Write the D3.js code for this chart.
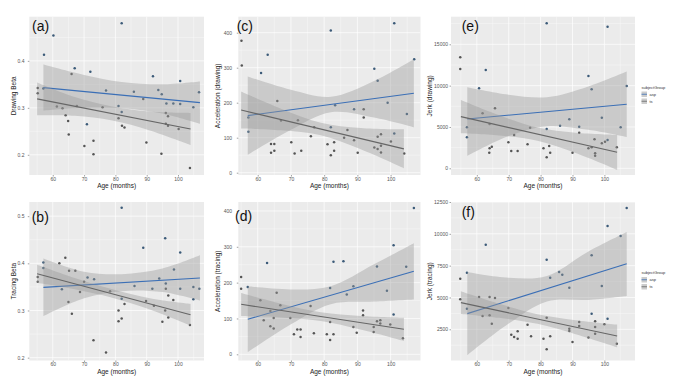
<!DOCTYPE html>
<html><head><meta charset="utf-8">
<script src="https://cdn.jsdelivr.net/npm/d3@7"></script>
<style>body{margin:0;background:#fff}svg{display:block}text{font-family:"Liberation Sans",Arial,sans-serif}</style>
</head><body><svg id="c" width="685" height="384"></svg>
<script>
// ---------------- data ----------------
const panelLabels = ["(a)","(b)","(c)","(d)","(e)","(f)"];
const yTitles = ["Drawing Beta","Tracing Beta","Acceleration (drawing)","Acceleration (tracing)","Jerk (drawing)","Jerk (tracing)"];
const xTitle = "Age (months)";
const xTicks = [60,70,80,90,100];
const yTicksA = [0.2,0.3,0.4];
const yTicksB = [0.2,0.3,0.4,0.5];
const yTicksC = [0,100,200,300,400];
const yTicksD = [0,100,200,300,400];
const yTicksE = [0,5000,10000,15000];
const yTicksF = [2500,5000,7500,10000,12500];
const groups = ["asp","ts"];
const legendTitle = "subjectGroup";

// points: [age, value, group(0=asp,1=ts)]
const ptsA = [[82.0,0.480,0],[60.2,0.454,0],[57.2,0.413,0],[55.2,0.342,1],[55.2,0.331,1],[57.0,0.341,0],[67.0,0.384,0],[66.0,0.372,1],[72.0,0.377,0],[77.0,0.337,0],[92.0,0.367,0],[100.7,0.357,0],[85.9,0.334,0],[93.7,0.338,0],[88.9,0.319,1],[81.0,0.304,0],[75.9,0.301,1],[61.3,0.303,1],[63.1,0.299,1],[64.1,0.284,1],[64.9,0.272,1],[65.1,0.243,1],[70.9,0.265,0],[70.1,0.219,1],[73.0,0.230,1],[73.0,0.201,1],[82.0,0.291,0],[82.1,0.262,1],[82.9,0.258,1],[89.9,0.226,1],[94.7,0.202,1],[96.3,0.309,0],[96.1,0.289,1],[96.8,0.282,1],[96.1,0.266,1],[96.8,0.262,1],[98.5,0.309,0],[100.2,0.255,1],[100.7,0.308,0],[104.9,0.301,0],[103.8,0.172,1],[106.7,0.333,0],[94.8,0.329,0],[81.0,0.278,1],[67.7,0.304,1]];
const ptsB = [[82.0,0.518,0],[88.9,0.433,0],[95.9,0.453,0],[100.7,0.423,0],[64.0,0.412,1],[57.0,0.402,0],[57.0,0.390,0],[62.1,0.400,1],[65.2,0.384,1],[67.2,0.384,1],[55.2,0.371,1],[55.2,0.361,1],[62.9,0.345,0],[71.1,0.370,0],[73.2,0.366,0],[98.7,0.387,0],[94.0,0.368,0],[96.1,0.357,0],[91.8,0.346,0],[86.1,0.352,0],[96.1,0.346,1],[100.7,0.346,0],[104.9,0.350,0],[106.8,0.346,0],[104.9,0.324,0],[96.9,0.332,1],[98.5,0.322,1],[65.0,0.318,1],[66.1,0.293,1],[82.0,0.325,0],[82.9,0.314,1],[81.0,0.300,1],[81.0,0.277,1],[82.0,0.283,1],[92.3,0.310,1],[89.8,0.320,1],[95.9,0.300,1],[96.9,0.285,1],[95.0,0.276,1],[103.8,0.269,1],[73.0,0.237,1],[77.0,0.211,1],[78.3,0.341,1],[68.7,0.339,1],[70.0,0.361,1]];
const ptsC = [[82.0,406,0],[101.1,427,0],[55.1,377,1],[55.2,306,1],[63.0,337,0],[61.0,285,0],[107.1,324,0],[95.1,297,0],[96.1,263,0],[99.1,200,0],[65.9,205,1],[83.3,193,0],[89.0,181,0],[91.9,181,1],[91.9,158,1],[104.9,168,0],[57.2,158,0],[57.2,117,0],[67.0,149,1],[72.1,150,1],[77.0,130,1],[82.0,130,0],[87.0,122,1],[76.0,104,1],[64.0,82,1],[65.0,82,1],[64.0,57,1],[65.0,63,1],[70.1,87,1],[71.1,55,1],[73.1,63,1],[81.0,81,1],[82.0,50,1],[83.0,63,1],[89.0,93,1],[90.1,57,1],[96.1,103,1],[97.1,110,1],[95.1,72,1],[96.1,68,1],[97.1,77,1],[97.1,58,1],[100.1,89,1],[101.1,112,0],[104.1,55,1],[86.0,100,1],[83.0,87,1]];
const ptsD = [[107.0,408,0],[100.9,304,0],[62.8,255,0],[82.8,258,0],[85.8,260,0],[104.7,244,0],[95.9,245,0],[55.0,216,1],[55.0,183,1],[57.0,188,0],[65.7,172,1],[81.8,185,0],[88.8,190,0],[86.8,167,0],[98.9,177,0],[60.8,151,1],[66.8,137,1],[75.9,135,1],[63.8,121,1],[61.8,95,1],[64.8,101,1],[69.8,101,1],[91.7,122,1],[91.7,109,1],[100.9,111,0],[81.8,90,1],[95.9,92,1],[96.9,86,1],[99.9,83,1],[88.8,76,1],[94.9,76,1],[63.8,78,1],[64.8,72,1],[71.9,69,1],[72.9,69,1],[70.9,56,1],[72.9,48,1],[76.9,59,1],[80.8,56,1],[82.8,56,1],[89.8,60,1],[81.8,40,1],[94.9,62,1],[103.7,45,1],[96.9,95,1]];
const ptsE = [[81.9,17540,0],[101.0,17137,0],[54.8,13427,1],[54.8,12016,1],[62.8,11895,0],[95.0,11169,0],[60.7,9677,0],[96.0,9556,0],[107.0,9960,0],[65.7,7258,1],[61.8,6653,1],[89.0,5927,0],[99.2,6129,0],[86.1,5161,0],[92.1,5040,0],[56.9,4960,0],[105.1,4960,0],[76.7,4919,1],[81.9,4758,0],[92.1,4315,1],[56.9,3750,0],[64.0,5363,1],[71.7,4032,1],[69.9,3145,1],[82.7,2702,1],[75.9,2903,1],[64.7,2621,1],[64.0,2419,1],[63.9,1895,1],[70.8,2097,1],[72.8,2097,1],[80.9,2419,1],[81.9,1331,1],[83.0,1895,1],[90.0,1895,1],[95.0,2419,1],[96.0,2540,1],[96.9,3508,1],[100.2,3226,1],[101.0,3427,0],[97.1,1815,1],[97.1,1532,1],[103.9,2540,1],[99.2,3024,1]];
const ptsF = [[107.0,12029,0],[101.0,10615,0],[105.1,9830,0],[62.8,9149,0],[81.9,7971,0],[96.0,8312,0],[56.9,6950,0],[54.8,6479,1],[85.8,7003,0],[86.8,6793,0],[83.0,6558,0],[89.0,5772,0],[99.2,5903,0],[54.8,4856,1],[60.7,5039,1],[64.0,5039,1],[65.7,4961,1],[56.9,4123,0],[69.9,4175,1],[61.8,3547,1],[64.0,3599,1],[64.7,2945,1],[96.0,3730,0],[81.9,3416,1],[92.1,3076,1],[92.1,2762,1],[97.1,3128,1],[101.0,3338,0],[100.0,2893,1],[97.1,2683,1],[89.0,2552,1],[89.0,2369,1],[75.9,2866,1],[72.8,2343,1],[70.8,2081,1],[71.7,1898,1],[72.8,1767,1],[77.0,1950,1],[80.9,1767,1],[83.0,1950,1],[81.9,929,1],[90.0,1505,1],[95.0,1846,1],[97.1,2160,1],[103.9,1374,1]];

// regression fits (value at first and last band age) and confidence bands (read at band ages)
const bandAgesAsp = [57,70,82,95,107];
const bandAgesTs  = [55,67,79,91,104];
const fitAspA=[0.343,0.311], hiAspA=[0.392,0.370,0.355,0.350,0.356], loAspA=[0.294,0.300,0.299,0.288,0.266];
const fitTsA=[0.319,0.255],  hiTsA=[0.354,0.323,0.303,0.292,0.289],  loTsA=[0.284,0.283,0.273,0.252,0.221];
const fitAspB=[0.349,0.369], hiAspB=[0.410,0.382,0.377,0.389,0.417], loAspB=[0.288,0.326,0.341,0.339,0.321];
const fitTsB=[0.378,0.291],  hiTsB=[0.397,0.369,0.345,0.326,0.314],  loTsB=[0.359,0.345,0.327,0.302,0.268];
const fitAspC=[163,227], hiAspC=[275,237,217,262,324], loAspC=[51,123,173,158,130];
const fitTsC=[179,68],   hiTsC=[232,183,143,128,124],  loTsC=[126,121,107,67,13];
const fitAspD=[97.7,231.6], hiAspD=[190,181,190,251,310], loAspD=[6,84,140,147,153];
const fitTsD=[139.5,69.8],  hiTsD=[171,141,117,107,102],  loTsD=[107,103,93,69,37];
const fitAspE=[5968,7742], hiAspE=[9800,8900,8600,9900,11700], loAspE=[1500,3900,5100,4650,3780];
const fitTsE=[6250,1935],  hiTsE=[8250,6410,4940,4300,4050],   loTsE=[4250,3980,3340,1865,-180];
const fitAspF=[3730,7657], hiAspF=[7000,6550,6690,8620,10150], loAspF=[460,2950,4690,4810,5120];
const fitTsF=[4594,1976],  hiTsF=[5480,4500,3690,3220,2870],   loTsF=[3710,3400,2930,2120,1090];

// ---------------- layout ----------------
const cols = [{x0:29.3,x1:204,xd:[52.5,108.3],pad:3.3,ytl:16},
              {x0:238.3,x1:420.5,xd:[54.15,109.0],pad:4.8,ytl:220},
              {x0:451,x1:635,xd:[51.9,109.6],pad:1.5,ytl:431.5}];
const rows = [{y0:16.7,y1:175},{y0:202,y1:360.5}];
const panels = [
  {col:0,row:0,yd:[0.157,0.494],ticks:yTicksA,fmt:d3.format(".1f"),pts:ptsA,fa:fitAspA,ha:hiAspA,la:loAspA,ft:fitTsA,ht:hiTsA,lt:loTsA,lx:32,ly:31},
  {col:0,row:1,yd:[0.194,0.530],ticks:yTicksB,fmt:d3.format(".1f"),pts:ptsB,fa:fitAspB,ha:hiAspB,la:loAspB,ft:fitTsB,ht:hiTsB,lt:loTsB,lx:31.7,ly:222},
  {col:1,row:0,yd:[-6.6,445.7],ticks:yTicksC,fmt:d3.format("d"),pts:ptsC,fa:fitAspC,ha:hiAspC,la:loAspC,ft:fitTsC,ht:hiTsC,lt:loTsC,lx:236.7,ly:31},
  {col:1,row:1,yd:[-17.3,425],ticks:yTicksD,fmt:d3.format("d"),pts:ptsD,fa:fitAspD,ha:hiAspD,la:loAspD,ft:fitTsD,ht:hiTsD,lt:loTsD,lx:235,ly:221},
  {col:2,row:0,yd:[-810,18340],ticks:yTicksE,fmt:d3.format("d"),pts:ptsE,fa:fitAspE,ha:hiAspE,la:loAspE,ft:fitTsE,ht:hiTsE,lt:loTsE,lx:461.7,ly:31},
  {col:2,row:1,yd:[49,12500],ticks:yTicksF,fmt:d3.format("d"),pts:ptsF,fa:fitAspF,ha:hiAspF,la:loAspF,ft:fitTsF,ht:hiTsF,lt:loTsF,lx:461.7,ly:217}
];
const ptColor = ["#3b5a78","#555555"];
const lineColor = ["#3b6fb6","#666666"];

const svg = d3.select("#c");

panels.forEach((p,i)=>{
  const c = cols[p.col], r = rows[p.row];
  const x = d3.scaleLinear().domain(c.xd).range([c.x0,c.x1]);
  const y = d3.scaleLinear().domain(p.yd).range([r.y1,r.y0]);
  const g = svg.append("g");
  const clipId = "clip"+i;
  svg.append("clipPath").attr("id",clipId).append("rect")
    .attr("x",c.x0).attr("y",r.y0).attr("width",c.x1-c.x0).attr("height",r.y1-r.y0);
  g.append("rect").attr("x",c.x0).attr("y",r.y0).attr("width",c.x1-c.x0).attr("height",r.y1-r.y0).attr("fill","#ebebeb");
  // grid
  const xMinor = xTicks.map(t=>t-5).concat([xTicks[xTicks.length-1]+5]);
  const step = p.ticks[1]-p.ticks[0];
  const yMinor = [p.ticks[0]-step/2].concat(p.ticks.map(t=>t+step/2));
  const gg = g.append("g").attr("clip-path",`url(#${clipId})`);
  gg.selectAll(".xm").data(xMinor).enter().append("line")
    .attr("x1",d=>x(d)).attr("x2",d=>x(d)).attr("y1",r.y0).attr("y2",r.y1).attr("stroke","#fff").attr("stroke-width",0.35);
  gg.selectAll(".ym").data(yMinor).enter().append("line")
    .attr("y1",d=>y(d)).attr("y2",d=>y(d)).attr("x1",c.x0).attr("x2",c.x1).attr("stroke","#fff").attr("stroke-width",0.35);
  gg.selectAll(".xM").data(xTicks).enter().append("line")
    .attr("x1",d=>x(d)).attr("x2",d=>x(d)).attr("y1",r.y0).attr("y2",r.y1).attr("stroke","#fff").attr("stroke-width",0.7);
  gg.selectAll(".yM").data(p.ticks).enter().append("line")
    .attr("y1",d=>y(d)).attr("y2",d=>y(d)).attr("x1",c.x0).attr("x2",c.x1).attr("stroke","#fff").attr("stroke-width",0.7);
  // points
  gg.selectAll(".pt").data(p.pts).enter().append("circle")
    .attr("cx",d=>x(d[0])).attr("cy",d=>y(d[1])).attr("r",1.25).attr("fill",d=>ptColor[d[2]]);
  // smooths
  const sets = [
    {ages:bandAgesAsp,fit:p.fa,hi:p.ha,lo:p.la,k:0},
    {ages:bandAgesTs,fit:p.ft,hi:p.ht,lo:p.lt,k:1}
  ];
  sets.forEach(s=>{
    const band = s.ages.map((a,j)=>({a:a,hi:s.hi[j],lo:s.lo[j]}));
    const area = d3.area().x(d=>x(d.a)).y0(d=>y(d.lo)).y1(d=>y(d.hi)).curve(d3.curveCatmullRom);
    gg.append("path").datum(band).attr("d",area).attr("fill","#999").attr("fill-opacity",0.4);
    const fl = [{a:s.ages[0],v:s.fit[0]},{a:s.ages[s.ages.length-1],v:s.fit[1]}];
    gg.append("path").datum(fl).attr("d",d3.line().x(d=>x(d.a)).y(d=>y(d.v)))
      .attr("stroke",lineColor[s.k]).attr("stroke-width",1.1).attr("fill","none");
  });
  // axes
  const xa = g.append("g").attr("transform",`translate(0,${r.y1})`)
    .call(d3.axisBottom(x).tickValues(xTicks).tickSize(1.5).tickPadding(0.8).tickFormat(d3.format("d")));
  const ya = g.append("g").attr("transform",`translate(${c.x0},0)`)
    .call(d3.axisLeft(y).tickValues(p.ticks).tickSize(1.5).tickPadding(c.pad).tickFormat(p.fmt));
  [xa,ya].forEach(a=>{
    a.select(".domain").remove();
    a.selectAll(".tick line").attr("stroke","#444").attr("stroke-width",0.5);
    a.selectAll("text").attr("font-size",5).attr("fill","#555").attr("font-family","Liberation Sans, Arial, sans-serif");
  });
  // titles
  g.append("text").attr("x",(c.x0+c.x1)/2).attr("y",r.y1+13.3).attr("text-anchor","middle")
    .attr("font-size",6.5).attr("fill","#222").text(xTitle);
  g.append("text").attr("transform",`translate(${c.ytl},${(r.y0+r.y1)/2}) rotate(-90)`).attr("text-anchor","middle")
    .attr("font-size",6.5).attr("fill","#222").text(yTitles[i]);
  g.append("text").attr("x",p.lx).attr("y",p.ly).attr("font-size",14).attr("fill","#111").text(panelLabels[i]);
});

// legends
[{y:88.5},{y:274}].forEach(L=>{
  const lg = svg.append("g").attr("transform",`translate(641.5,${L.y})`);
  lg.append("text").attr("x",0).attr("y",0).attr("font-size",4).attr("fill","#333").text(legendTitle);
  groups.forEach((gname,k)=>{
    const yy = 3 + k*7;
    lg.append("rect").attr("x",0).attr("y",yy).attr("width",5.5).attr("height",5.5).attr("fill","#ccc");
    lg.append("line").attr("x1",0).attr("x2",5.5).attr("y1",yy+2.75).attr("y2",yy+2.75).attr("stroke",lineColor[k]).attr("stroke-width",0.8);
    lg.append("text").attr("x",8).attr("y",yy+4.3).attr("font-size",4).attr("fill","#333").text(gname);
  });
});
</script></body></html>
